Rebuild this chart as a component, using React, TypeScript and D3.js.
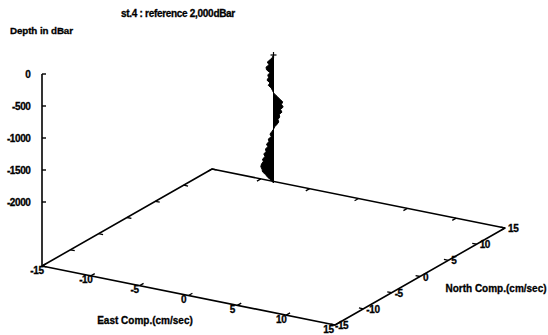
import React from 'react';
import * as d3 from 'd3';

const DEPTHS = [0, -40, -80, -120, -160, -200, -240, -280, -320, -360, -400, -440, -480, -520, -560, -600, -640, -680, -720, -760, -800, -840, -880, -920, -960, -1000, -1040, -1080, -1120, -1160, -1200, -1240, -1280, -1320, -1360, -1400, -1440, -1480, -1520, -1560, -1600, -1640, -1680, -1720, -1760, -1800, -1840, -1880, -1920, -1960, -2000];
const EAST_COMP = [0, -0.1, -0.3, -0.55, -0.4, -0.65, -0.6, -0.3, -0.5, -0.45, -0.55, -0.3, -0.45, -0.2, -0.1, 0.05, 0.3, 0.55, 0.8, 0.7, 0.85, 0.6, 0.75, 0.5, 0.55, 0.4, 0.45, 0.3, 0.1, 0.0, -0.15, -0.3, -0.2, -0.45, -0.4, -0.6, -0.5, -0.7, -0.65, -0.85, -0.75, -0.95, -0.9, -1.05, -1.1, -1.0, -0.95, -0.7, -0.5, -0.2, 0];
const NORTH_COMP = [0, -0.05, -0.1, -0.15, -0.1, -0.2, -0.2, -0.1, -0.15, -0.1, -0.2, -0.1, -0.15, -0.05, 0, 0, 0.1, 0.15, 0.25, 0.2, 0.25, 0.2, 0.2, 0.15, 0.15, 0.1, 0.15, 0.1, 0.05, 0, -0.05, -0.1, -0.05, -0.15, -0.1, -0.2, -0.15, -0.2, -0.2, -0.25, -0.2, -0.3, -0.25, -0.3, -0.35, -0.3, -0.3, -0.2, -0.15, -0.05, 0];
const HORIZ_TICKS = [-15, -10, -5, 0, 5, 10, 15];
const DEPTH_TICKS = [0, -500, -1000, -1500, -2000];

const TITLE = 'st.4 : reference 2,000dBar';
const Z_LABEL = 'Depth in dBar';
const E_LABEL = 'East Comp.(cm/sec)';
const N_LABEL = 'North Comp.(cm/sec)';

const W = 548;
const H = 335;
const OX = 42;
const OY = 266;
const eX = d3.scaleLinear().domain([-15, 15]).range([0, 293]);
const eY = d3.scaleLinear().domain([-15, 15]).range([0, 59]);
const nX = d3.scaleLinear().domain([-15, 15]).range([0, 170]);
const nY = d3.scaleLinear().domain([-15, 15]).range([0, -97]);
const zY = d3.scaleLinear().domain([-3000, 0]).range([0, -192]);
const Z_BASE = -3000;

function proj(e: number, n: number, z: number): [number, number] {
  return [OX + eX(e) + nX(n), OY + eY(e) + nY(n) + zY(z)];
}

const FONT = '"Liberation Sans", Arial, sans-serif';

export default function App() {
  const line = d3.line<[number, number]>().x(d => d[0]).y(d => d[1]);
  const L = proj(-15, -15, Z_BASE);
  const F = proj(15, -15, Z_BASE);
  const R = proj(15, 15, Z_BASE);
  const B = proj(-15, 15, Z_BASE);
  const edges = line([L, F, R, B, L]) || '';
  const zTop = proj(-15, -15, 0);

  const profilePts: [number, number][] = DEPTHS.map((z, i) => proj(EAST_COMP[i], NORTH_COMP[i], z));
  const axisPts: [number, number][] = [proj(0, 0, DEPTHS[DEPTHS.length - 1]), proj(0, 0, DEPTHS[0])];
  const poly = line([...profilePts, ...axisPts]) + 'Z';
  const top = proj(0, 0, 0);

  const norm = (v: [number, number], len: number): [number, number] => {
    const m = Math.hypot(v[0], v[1]);
    return [(v[0] / m) * len, (v[1] / m) * len];
  };
  const nDir = norm([nX(15) - nX(-15), nY(15) - nY(-15)], 4.5);
  const eDir = norm([eX(15) - eX(-15), eY(15) - eY(-15)], 4.5);

  const ticks: string[] = [];
  HORIZ_TICKS.forEach(t => {
    const a = proj(t, -15, Z_BASE);
    ticks.push(`M${a[0]},${a[1]}l${nDir[0]},${nDir[1]}`);
    const b = proj(t, 15, Z_BASE);
    ticks.push(`M${b[0]},${b[1]}l${-nDir[0]},${-nDir[1]}`);
    const c = proj(15, t, Z_BASE);
    ticks.push(`M${c[0]},${c[1]}l${-eDir[0]},${-eDir[1]}`);
    const d = proj(-15, t, Z_BASE);
    ticks.push(`M${d[0]},${d[1]}l${eDir[0]},${eDir[1]}`);
  });

  const textStyle = { stroke: '#000', strokeWidth: 0.3 };

  return (
    <svg width={W} height={H} style={{ position: 'absolute', left: 0, top: 0, background: '#fff' }}
      fontFamily={FONT} fontWeight="bold">
      <rect width={W} height={H} fill="#fff" />
      <text x={178} y={17} fontSize={10} textAnchor="middle" letterSpacing={-0.3} style={textStyle}>{TITLE}</text>
      <text x={10} y={34} fontSize={9.8} letterSpacing={-0.1} style={textStyle}>{Z_LABEL}</text>

      <path d={edges} fill="none" stroke="#000" strokeWidth={1.6} strokeLinejoin="round" />
      <path d={ticks.join('')} fill="none" stroke="#000" strokeWidth={1.3} />

      <line x1={zTop[0]} y1={zTop[1]} x2={L[0]} y2={L[1]} stroke="#000" strokeWidth={1.6} />
      {DEPTH_TICKS.map(t => {
        const p = proj(-15, -15, t);
        return (
          <g key={t}>
            <line x1={p[0]} y1={p[1]} x2={p[0] + 4} y2={p[1]} stroke="#000" strokeWidth={1.4} />
            <text x={30.5} y={p[1] + 3.6} fontSize={10} textAnchor="end" letterSpacing={-0.4} style={textStyle}>{t}</text>
          </g>
        );
      })}

      {HORIZ_TICKS.map(t => {
        const p = proj(t, -15, Z_BASE);
        return (
          <text key={'e' + t} x={p[0] - (t === 15 ? 6.5 : 5)} y={p[1] + 7.5} fontSize={10} textAnchor="middle" letterSpacing={-0.4} style={textStyle}>{t}</text>
        );
      })}
      {HORIZ_TICKS.map(t => {
        const p = proj(15, t, Z_BASE);
        return (
          <text key={'n' + t} x={p[0] + (t === -15 ? 0 : 3)} y={p[1] + 4} fontSize={10} textAnchor="start" letterSpacing={-0.4} style={textStyle}>{t}</text>
        );
      })}

      <text x={145} y={324} fontSize={10} textAnchor="middle" style={textStyle}>{E_LABEL}</text>
      <text x={496} y={292} fontSize={10} textAnchor="middle" style={textStyle}>{N_LABEL}</text>

      <path d={poly} fill="#000" stroke="#000" strokeWidth={1} strokeLinejoin="round" />
      <line x1={top[0] - 3} y1={top[1]} x2={top[0] + 3} y2={top[1]} stroke="#000" strokeWidth={1.2} />
      <line x1={top[0]} y1={top[1] - 3} x2={top[0]} y2={top[1] + 3} stroke="#000" strokeWidth={1.2} />
    </svg>
  );
}
